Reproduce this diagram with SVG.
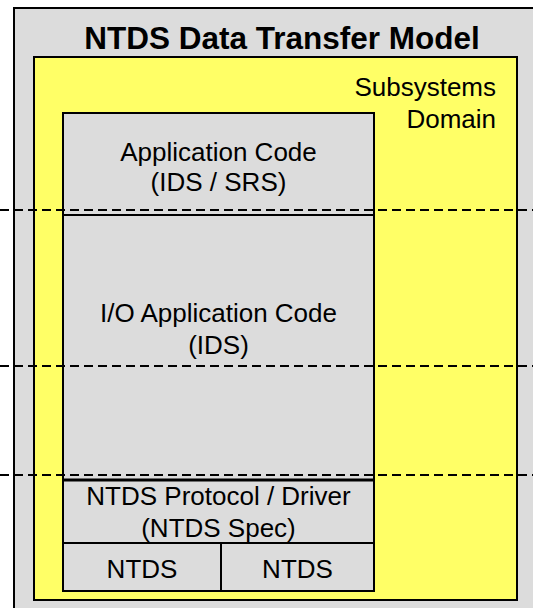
<svg xmlns="http://www.w3.org/2000/svg" width="533" height="608" viewBox="0 0 533 608">
  <style>
    .box { stroke: #000; stroke-width: 2; }
    .gray { fill: #DCDCDC; }
    .yellow { fill: #FFFF66; }
    .lbl { font-family: "Liberation Sans", Arial, sans-serif; font-size: 26px; fill: #000; text-anchor: middle; }
    .title { font-family: "Liberation Sans", Arial, sans-serif; font-size: 31.5px; font-weight: bold; fill: #000; text-anchor: middle; }
    .dash { stroke: #000; stroke-width: 2; stroke-dasharray: 9 5; fill: none; }
  </style>

  <rect width="533" height="608" fill="#FFFFFF"/>

  <!-- outer model frame (runs past the right and bottom edges) -->
  <g id="model">
    <rect class="box gray" x="14" y="8" width="540" height="620"/>
    <text class="title" x="282" y="49">NTDS Data Transfer Model</text>
  </g>

  <!-- subsystems domain -->
  <g id="subsystems-domain">
    <rect class="box yellow" x="34" y="57" width="483" height="543"/>
    <text class="lbl" x="496" y="96" text-anchor="end" style="text-anchor:end">Subsystems</text>
    <text class="lbl" x="496" y="128" style="text-anchor:end">Domain</text>
  </g>

  <!-- software stack -->
  <g id="application-code">
    <rect class="box gray" x="63" y="113" width="311" height="102"/>
    <text class="lbl" x="218.5" y="161">Application Code</text>
    <text class="lbl" x="218.5" y="191">(IDS / SRS)</text>
  </g>

  <g id="io-application-code">
    <rect class="box gray" x="63" y="215" width="311" height="265"/>
    <text class="lbl" x="218.5" y="322">I/O Application Code</text>
    <text class="lbl" x="218.5" y="354">(IDS)</text>
  </g>

  <g id="ntds-protocol-driver">
    <rect class="box gray" x="63" y="480" width="311" height="63"/>
    <line x1="63" y1="480" x2="374" y2="480" stroke="#000" stroke-width="3"/>
    <text class="lbl" x="218.5" y="505">NTDS Protocol / Driver</text>
    <text class="lbl" x="218.5" y="537">(NTDS Spec)</text>
  </g>

  <g id="ntds-left">
    <rect class="box gray" x="63" y="543" width="158" height="48"/>
    <text class="lbl" x="142" y="578">NTDS</text>
  </g>

  <g id="ntds-right">
    <rect class="box gray" x="221" y="543" width="153" height="48"/>
    <text class="lbl" x="297.5" y="578">NTDS</text>
  </g>

  <!-- layer boundaries -->
  <g id="connectors">
    <line class="dash" x1="0" y1="210" x2="533" y2="210"/>
    <line class="dash" x1="0" y1="366" x2="533" y2="366"/>
    <line class="dash" x1="0" y1="475" x2="533" y2="475"/>
  </g>
</svg>
